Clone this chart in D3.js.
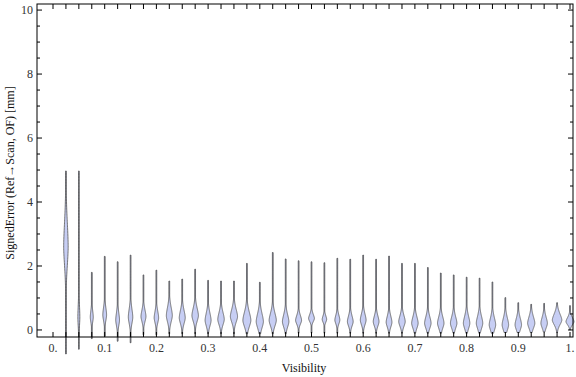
<!DOCTYPE html>
<html>
<head>
<meta charset="utf-8">
<script src="https://cdn.jsdelivr.net/npm/d3@7"></script>
<style>
  body { margin: 0; background: #fff; }
  svg text { font-family: "Liberation Serif", "DejaVu Serif", serif; }
</style>
</head>
<body>
<div id="chart"></div>
<script>
// visibility bins (one violin each)
const visibility = [0.025, 0.05, 0.075, 0.1, 0.125, 0.15, 0.175, 0.2, 0.225, 0.25,
  0.275, 0.3, 0.325, 0.35, 0.375, 0.4, 0.425, 0.45, 0.475, 0.5,
  0.525, 0.55, 0.575, 0.6, 0.625, 0.65, 0.675, 0.7, 0.725, 0.75,
  0.775, 0.8, 0.825, 0.85, 0.875, 0.9, 0.925, 0.95, 0.975, 1.0];
// max of signed error per bin [mm]
const errMax = [4.97, 4.97, 1.8, 2.3, 2.13, 2.34, 1.72, 1.87, 1.53, 1.59,
  1.9, 1.55, 1.53, 1.53, 2.08, 1.49, 2.42, 2.22, 2.16, 2.13,
  2.1, 2.24, 2.21, 2.34, 2.21, 2.31, 2.08, 2.08, 1.95, 1.78,
  1.72, 1.65, 1.62, 1.5, 1.01, 0.85, 0.8, 0.83, 0.85, 0.76];
// min of signed error per bin [mm]
const errMin = [-0.75, -0.6, -0.27, -0.2, -0.35, -0.4, -0.15, -0.15, -0.12, -0.12,
  -0.12, -0.12, -0.12, -0.12, -0.12, -0.12, -0.12, -0.12, -0.1, -0.1,
  -0.1, -0.1, -0.1, -0.1, -0.1, -0.1, -0.1, -0.1, -0.1, -0.1,
  -0.1, -0.1, -0.1, -0.1, -0.08, -0.08, -0.08, -0.06, -0.08, 0.0];
// mode of the distribution (widest point of violin)
const errMode = [2.6, 0.4, 0.4, 0.47, 0.31, 0.4, 0.42, 0.38, 0.45, 0.38,
  0.45, 0.3, 0.33, 0.42, 0.3, 0.26, 0.3, 0.26, 0.3, 0.36,
  0.33, 0.31, 0.26, 0.31, 0.26, 0.24, 0.26, 0.21, 0.21, 0.21,
  0.21, 0.21, 0.21, 0.16, 0.16, 0.16, 0.21, 0.21, 0.31, 0.26];
// spread of the body around the mode
const errSpread = [0.6, 0.3, 0.16, 0.18, 0.18, 0.2, 0.16, 0.16, 0.2, 0.18,
  0.18, 0.18, 0.17, 0.18, 0.2, 0.2, 0.18, 0.17, 0.12, 0.1,
  0.09, 0.12, 0.14, 0.15, 0.14, 0.15, 0.15, 0.16, 0.16, 0.16,
  0.16, 0.17, 0.17, 0.17, 0.17, 0.16, 0.16, 0.15, 0.15, 0.1];
// relative peak density
const peakDensity = [0.45, 0.2, 0.3, 0.38, 0.38, 0.45, 0.5, 0.45, 0.6, 0.6,
  0.65, 0.6, 0.65, 0.72, 0.8, 0.72, 0.72, 0.65, 0.6, 0.58,
  0.45, 0.5, 0.58, 0.58, 0.58, 0.58, 0.65, 0.65, 0.65, 0.65,
  0.65, 0.65, 0.65, 0.65, 0.65, 0.65, 0.72, 0.65, 0.95, 0.8];

const xTicks = [0, 0.1, 0.2, 0.3, 0.4, 0.5, 0.6, 0.7, 0.8, 0.9, 1.0];
const xTickLabels = ['0.', '0.1', '0.2', '0.3', '0.4', '0.5', '0.6', '0.7', '0.8', '0.9', '1.'];
const yTicks = [0, 2, 4, 6, 8, 10];

const width = 576, height = 377;
const frame = {left: 37, right: 573, top: 4, bottom: 337};

const svg = d3.select('#chart').append('svg')
  .attr('width', width)
  .attr('height', height);

const x = d3.scaleLinear().domain([0, 1]).range([53, 570]);
const y = d3.scaleLinear().domain([-0.22, 10.19]).range([frame.bottom, frame.top]);
const w = d3.scaleLinear().domain([0, 1]).range([0, 5]); // density -> half width px

// violins
const data = visibility.map((v, i) => ({
  v: v, lo: errMin[i], hi: errMax[i], mode: errMode[i], s: errSpread[i], peak: peakDensity[i]
}));

const g = svg.append('g').attr('class', 'violins');

const area = d3.area()
  .x0(d => d.cx - d.hw)
  .x1(d => d.cx + d.hw)
  .y(d => y(d.e))
  .curve(d3.curveBasis);

data.forEach(d => {
  const cx = x(d.v);
  g.append('line')
    .attr('x1', cx).attr('x2', cx)
    .attr('y1', y(d.lo)).attr('y2', y(d.hi))
    .attr('stroke', '#5a5a5a')
    .attr('stroke-width', 1.1);

  const pts = d3.range(0, 121).map(k => {
    const e = d.lo + (d.hi - d.lo) * k / 120;
    const s = e > d.mode ? d.s * 1.3 : d.s;
    const z = Math.abs(e - d.mode) / s;
    const hw = w(d.peak) * Math.exp(-0.5 * Math.pow(z, 1.7));
    return {cx: cx, e: e, hw: Math.max(hw, 0.35)};
  });
  g.append('path')
    .attr('d', area(pts))
    .attr('fill', '#c7cef4')
    .attr('stroke', '#555')
    .attr('stroke-width', 0.8);
});

// frame
svg.append('rect')
  .attr('x', frame.left).attr('y', frame.top)
  .attr('width', frame.right - frame.left)
  .attr('height', frame.bottom - frame.top)
  .attr('fill', 'none')
  .attr('stroke', '#000')
  .attr('stroke-width', 1);

// x ticks, inward on bottom and top
const xMinor = d3.range(0, 41).map(k => k * 0.025);
const ticks = svg.append('g').attr('stroke', '#000').attr('stroke-width', 1);
xMinor.forEach(t => {
  const px = x(t);
  ticks.append('line').attr('x1', px).attr('x2', px).attr('y1', frame.bottom).attr('y2', frame.bottom - 5);
  ticks.append('line').attr('x1', px).attr('x2', px).attr('y1', frame.top).attr('y2', frame.top + 5);
});

// y ticks, inward on left and right
d3.range(0, 21).map(k => k * 0.5).forEach(t => {
  const py = y(t);
  const len = t % 2 === 0 ? 5 : 3;
  ticks.append('line').attr('x1', frame.left).attr('x2', frame.left + len).attr('y1', py).attr('y2', py);
  ticks.append('line').attr('x1', frame.right).attr('x2', frame.right - len).attr('y1', py).attr('y2', py);
});

// tick labels
svg.append('g').selectAll('text')
  .data(xTicks)
  .enter().append('text')
  .attr('x', d => x(d))
  .attr('y', 352)
  .attr('text-anchor', 'middle')
  .attr('font-size', 12)
  .attr('fill', '#333')
  .text((d, i) => xTickLabels[i]);

svg.append('g').selectAll('text')
  .data(yTicks)
  .enter().append('text')
  .attr('x', 33)
  .attr('y', d => y(d) + 4)
  .attr('text-anchor', 'end')
  .attr('font-size', 12)
  .attr('fill', '#333')
  .text(d => d);

// axis titles
svg.append('text')
  .attr('x', 304)
  .attr('y', 372)
  .attr('text-anchor', 'middle')
  .attr('font-size', 12)
  .attr('fill', '#111')
  .text('Visibility');

svg.append('text')
  .attr('transform', 'translate(14,173) rotate(-90)')
  .attr('text-anchor', 'middle')
  .attr('font-size', 12)
  .attr('fill', '#111')
  .text('SignedError (Ref\u2192Scan, OF) [mm]');
</script>
</body>
</html>
